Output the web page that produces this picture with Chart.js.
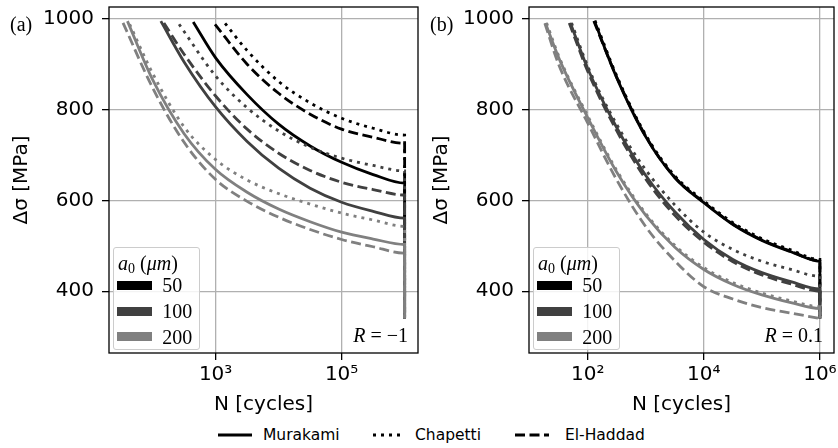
<!DOCTYPE html>
<html lang="en">
<head>
<meta charset="UTF-8" />
<title>S-N curves</title>
<script src="https://cdn.jsdelivr.net/npm/chart.js@4.4.0/dist/chart.umd.min.js"></script>
<style>
  body { margin: 0; background: #fff; }
  #page { position: relative; width: 838px; height: 448px; overflow: hidden; background: #fff; }
  .panel { position: absolute; top: 0; height: 420px; }
  .txt { position: absolute; white-space: nowrap; color: #000; }
  .serif { font-family: "Liberation Serif", "DejaVu Serif", serif; font-size: 20px; line-height: 20px; }
  .sans { font-family: "DejaVu Sans", sans-serif; font-size: 15.5px; line-height: 18px; }
  .box { position: absolute; border: 1px solid #cccccc; border-radius: 3px; background: rgba(255,255,255,0.85); }
  .patch { position: absolute; width: 35px; height: 9px; }
</style>
</head>
<body>
<div id="page">
  <div class="panel" style="left:0;width:420px"><canvas id="chartA" width="420" height="420"></canvas></div>
  <div class="panel" style="left:420px;width:418px"><canvas id="chartB" width="418" height="420"></canvas></div>

  <div class="txt serif" style="left:10px;top:14px">(a)</div>
  <div class="txt serif" style="left:430px;top:14px">(b)</div>
  <div class="txt serif" style="left:308px;top:325px;width:100px;text-align:right"><i>R</i> = −1</div>
  <div class="txt serif" style="left:723px;top:325px;width:100px;text-align:right"><i>R</i> = 0.1</div>

  <div id="legendA"></div>
  <div id="legendB"></div>

  <!-- model legend under both panels -->
  <svg style="position:absolute;left:218px;top:430px" width="34" height="10"><line x1="0" y1="5" x2="34" y2="5" stroke="#000" stroke-width="3"/></svg>
  <div class="txt sans" style="left:263px;top:426px">Murakami</div>
  <svg style="position:absolute;left:373px;top:430px" width="30" height="10"><line x1="0" y1="5" x2="30" y2="5" stroke="#000" stroke-width="3" stroke-dasharray="3 5"/></svg>
  <div class="txt sans" style="left:415px;top:426px">Chapetti</div>
  <svg style="position:absolute;left:515px;top:430px" width="34" height="10"><line x1="0" y1="5" x2="34" y2="5" stroke="#000" stroke-width="3" stroke-dasharray="10 4.5"/></svg>
  <div class="txt sans" style="left:565px;top:426px">El-Haddad</div>
</div>

<script>
// ---- data: [N cycles, delta sigma MPa] ----
// panel (a), R = -1
const a_mur_50  = [[441,993],[1000,914],[3162,833],[1e4,768],[31623,720],[1e5,684],[316228,657],[1e6,638],[1e6,340]];
const a_cha_50  = [[1413,990],[3162,930],[1e4,862],[31623,815],[1e5,781],[316228,759],[1e6,744],[1e6,340]];
const a_elh_50  = [[977,988],[3162,900],[1e4,836],[31623,790],[1e5,757],[316228,739],[1e6,726],[1e6,340]];
const a_mur_100 = [[135,995],[316,905],[1000,806],[3162,730],[1e4,671],[31623,627],[1e5,596],[316228,576],[1e6,561],[1e6,340]];
const a_cha_100 = [[263,988],[1000,874],[3162,804],[1e4,753],[31623,717],[1e5,693],[316228,677],[1e6,665],[1e6,340]];
const a_elh_100 = [[151,991],[316,922],[1000,830],[3162,757],[1e4,704],[31623,666],[1e5,640],[316228,624],[1e6,612],[1e6,340]];
const a_mur_200 = [[39.8,995],[100,866],[316,747],[1000,668],[3162,618],[1e4,581],[31623,553],[1e5,530],[316228,515],[1e6,503],[1e6,340]];
const a_cha_200 = [[43.2,988],[100,880],[316,762],[1000,690],[3162,645],[1e4,615],[31623,592],[1e5,572],[316228,557],[1e6,543],[1e6,340]];
const a_elh_200 = [[33.9,991],[100,848],[316,728],[1000,646],[3162,598],[1e4,563],[31623,536],[1e5,514],[316228,498],[1e6,484],[1e6,340]];

// panel (b), R = 0.1
const b_mur_50  = [[130,995],[316,870],[1000,740],[3162,650],[1e4,595],[31623,547],[1e5,512],[316228,487],[1e6,466],[1e6,345]];
const b_cha_50  = [[133,996],[316,874],[1000,744],[3162,654],[1e4,599],[31623,551],[1e5,516],[316228,491],[1e6,470],[1e6,345]];
const b_elh_50  = [[127,995],[316,871],[1000,741],[3162,651],[1e4,596],[31623,548],[1e5,513],[316228,488],[1e6,467],[1e6,345]];
const b_mur_100 = [[50.1,991],[100,890],[316,760],[1000,655],[3162,575],[1e4,514],[31623,470],[1e5,441],[316228,421],[1e6,405],[1e6,340]];
const b_cha_100 = [[52.5,991],[100,895],[316,767],[1000,667],[3162,590],[1e4,530],[31623,492],[1e5,466],[316228,448],[1e6,433],[1e6,340]];
const b_elh_100 = [[47.9,991],[100,884],[316,753],[1000,647],[3162,567],[1e4,508],[31623,465],[1e5,436],[316228,416],[1e6,400],[1e6,340]];
const b_mur_200 = [[18.6,991],[31.6,914],[100,782],[316,662],[1000,567],[3162,497],[1e4,448],[31623,415],[1e5,392],[316228,375],[1e6,362],[1e6,340]];
const b_cha_200 = [[19.5,991],[31.6,918],[100,786],[316,666],[1000,571],[3162,501],[1e4,452],[31623,419],[1e5,396],[316228,379],[1e6,366],[1e6,340]];
const b_elh_200 = [[18.2,990],[31.6,899],[100,770],[316,645],[1000,542],[3162,467],[1e4,410],[31623,383],[1e5,364],[316228,352],[1e6,340]];

const sizes = ['50', '100', '200'];
const models = ['Murakami', 'Chapetti', 'El-Haddad'];
const yTicks = [400, 600, 800, 1000];
const xTicksA = [1e3, 1e5];
const xTicksB = [1e2, 1e4, 1e6];

const curvesA = [[a_mur_50, a_cha_50, a_elh_50], [a_mur_100, a_cha_100, a_elh_100], [a_mur_200, a_cha_200, a_elh_200]];
const curvesB = [[b_mur_50, b_cha_50, b_elh_50], [b_mur_100, b_cha_100, b_elh_100], [b_mur_200, b_cha_200, b_elh_200]];

// styles
const greys = ['#000000', '#404040', '#808080'];
const dashes = [[], [3, 5], [10, 4.5]];
const sup = '⁰¹²³⁴⁵⁶⁷⁸⁹';

const framePlugin = {
  id: 'frame',
  afterDatasetsDraw(chart) {
    const { ctx, chartArea: a } = chart;
    ctx.save();
    ctx.strokeStyle = '#000';
    ctx.lineWidth = 1.3;
    ctx.strokeRect(a.left, a.top, a.right - a.left, a.bottom - a.top);
    ctx.restore();
  }
};

function makeChart(id, curves, xTicks, xMin, xMax, padRight) {
  const datasets = [];
  curves.forEach((row, si) => {
    row.forEach((pts, mi) => {
      datasets.push({
        label: models[mi] + ' ' + sizes[si],
        data: pts.map(p => ({ x: p[0], y: p[1] })),
        borderColor: greys[si],
        borderWidth: 2.8,
        borderDash: dashes[mi],
        borderCapStyle: 'butt',
        pointRadius: 0,
        fill: false,
        cubicInterpolationMode: 'monotone'
      });
    });
  });
  // chart.js paints dataset 0 last; reverse so a0 = 200 ends on top like the original
  datasets.reverse();

  return new Chart(document.getElementById(id), {
    type: 'line',
    data: { datasets },
    plugins: [framePlugin],
    options: {
      responsive: false,
      animation: false,
      events: [],
      layout: { padding: { left: 0, right: padRight, top: 7, bottom: 0 } },
      plugins: { legend: { display: false }, tooltip: { enabled: false } },
      scales: {
        x: {
          type: 'logarithmic',
          min: xMin,
          max: xMax,
          border: { display: false },
          grid: { color: '#b0b0b0', lineWidth: 1.3, tickColor: '#000', tickLength: 7, tickWidth: 1.3 },
          ticks: {
            color: '#000', font: { family: 'DejaVu Sans', size: 20 }, padding: 3, maxRotation: 0,
            callback: v => '10' + String(Math.round(Math.log10(v))).split('').map(d => sup[+d]).join('')
          },
          title: { display: true, text: 'N [cycles]', color: '#000', font: { family: 'DejaVu Sans', size: 20 }, padding: { top: 0, bottom: 3 } },
          afterBuildTicks: s => { s.ticks = xTicks.map(v => ({ value: v })); },
          afterFit: s => { s.height = 67; s.paddingLeft = 0; s.paddingRight = 0; }
        },
        y: {
          type: 'linear',
          min: 264,
          max: 1026,
          border: { display: false },
          grid: { color: '#b0b0b0', lineWidth: 1.3, tickColor: '#000', tickLength: 7, tickWidth: 1.3 },
          ticks: { color: '#000', font: { family: 'DejaVu Sans', size: 20 }, padding: 8, callback: v => String(v) },
          title: { display: true, text: 'Δσ [MPa]', color: '#000', font: { family: 'DejaVu Sans', size: 20 }, padding: { top: 10, bottom: 0 } },
          afterBuildTicks: s => { s.ticks = yTicks.map(v => ({ value: v })); },
          afterFit: s => { s.width = 109; s.paddingTop = 0; s.paddingBottom = 0; }
        }
      }
    }
  });
}

makeChart('chartA', curvesA, xTicksA, 20.3, 1.63e6, 2);
makeChart('chartB', curvesB, xTicksB, 9.7, 1.75e6, 4);

// a0 legends inside each panel (lower left)
function buildLegend(id, left) {
  const el = document.getElementById(id);
  let html = '<div class="box" style="left:' + (left + 3.7) + 'px;top:247px;width:85px;height:101px"></div>';
  html += '<div class="txt serif" style="left:' + (left + 9) + 'px;top:253px"><i>a</i><sub style="font-size:14px;vertical-align:-3px;line-height:0">0</sub> (<i>μm</i>)</div>';
  const rowY = [285, 311, 336.7];
  sizes.forEach((s, i) => {
    html += '<div class="patch" style="left:' + (left + 7.7) + 'px;top:' + (rowY[i] - 4.5) + 'px;background:' + greys[i] + '"></div>';
    html += '<div class="txt serif" style="left:' + (left + 53.3) + 'px;top:' + (rowY[i] - 10) + 'px">' + s + '</div>';
  });
  el.innerHTML = html;
}
buildLegend('legendA', 109);
buildLegend('legendB', 529);
</script>
</body>
</html>
